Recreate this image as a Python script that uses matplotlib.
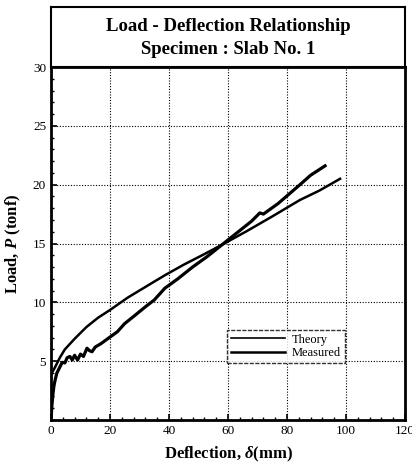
import matplotlib
matplotlib.use("Agg")
import matplotlib.pyplot as plt
from matplotlib.ticker import MultipleLocator

# Data
theory_d = [0.0, 0.3, 1.4, 3.0, 4.7, 8.0, 12.0, 16.0, 20.0, 26.0, 33.6, 38.6, 45.0, 52.0, 58.0, 66.0, 75.0, 84.4, 91.0, 98.0]
theory_p = [3.8, 4.0, 4.5, 5.3, 6.0, 6.9, 7.9, 8.7, 9.35, 10.4, 11.55, 12.3, 13.2, 14.1, 14.9, 16.0, 17.3, 18.7, 19.5, 20.5]

meas_d = [0.0, 0.3, 0.7, 1.0, 1.4, 2.0, 3.0, 3.8, 4.7, 5.5, 6.4, 7.2, 8.0, 9.0, 10.0, 11.0, 12.2, 13.0, 13.9, 15.0,
          17.0, 20.0, 22.5, 25.0, 28.0, 31.9, 35.0, 38.6, 43.0, 48.0, 53.0, 58.0, 63.0, 68.0, 70.0, 70.8, 72.0, 77.0, 84.4, 88.0, 92.9]
meas_p = [0.0, 1.2, 2.3, 2.9, 3.4, 4.0, 4.5, 4.9, 4.85, 5.3, 5.4, 5.1, 5.5, 5.1, 5.6, 5.4, 6.1, 5.9, 5.8, 6.2,
          6.5, 7.05, 7.5, 8.2, 8.8, 9.6, 10.2, 11.2, 12.0, 13.0, 13.9, 14.9, 15.9, 16.9, 17.4, 17.6, 17.5, 18.4, 20.0, 20.8, 21.6]

x_ticks = [0, 20, 40, 60, 80, 100, 120]
y_ticks = [5, 10, 15, 20, 25, 30]
title_lines = ["Load - Deflection Relationship", "Specimen : Slab No. 1"]
legend_labels = ["Theory", "Measured"]

serif = ["Liberation Serif", "DejaVu Serif"]
plt.rcParams["font.family"] = serif
plt.rcParams["mathtext.fontset"] = "custom"
plt.rcParams["mathtext.rm"] = "Liberation Serif"
plt.rcParams["mathtext.it"] = "Liberation Serif:italic"
plt.rcParams["mathtext.bf"] = "Liberation Serif:bold"
plt.rcParams["mathtext.bfit"] = "Liberation Serif:bold:italic"

fig = plt.figure(figsize=(4.12, 4.71), dpi=100)
W, H = 412.0, 471.0
left, right = 51 / W, 405 / W
bottom, top = 1 - 420 / H, 1 - 67 / H
ax = fig.add_axes([left, bottom, right - left, top - bottom])

# title box
tax = fig.add_axes([left, top, right - left, (67 - 7) / H])
tax.set_xticks([])
tax.set_yticks([])
for s in tax.spines.values():
    s.set_linewidth(1.5)
tax.text(0.5, 0.67, title_lines[0], ha="center", va="center", fontsize=13.5, fontweight="bold", transform=tax.transAxes)
tax.text(0.5, 0.30, title_lines[1], ha="center", va="center", fontsize=13.5, fontweight="bold", transform=tax.transAxes)

ax.plot(theory_d, theory_p, color="black", lw=1.8, label=legend_labels[0], solid_joinstyle="round")
ax.plot(meas_d, meas_p, color="black", lw=2.3, label=legend_labels[1], solid_joinstyle="round")

ax.set_xlim(0, 120)
ax.set_ylim(0, 30)
ax.set_xticks(x_ticks)
ax.set_yticks(y_ticks)
ax.xaxis.set_minor_locator(MultipleLocator(4))
ax.yaxis.set_minor_locator(MultipleLocator(1))
ax.tick_params(which="both", direction="in", labelsize=9.5)
ax.tick_params(which="major", length=4, width=1.2)
ax.tick_params(which="minor", length=2.5, width=1.0)
ax.grid(True, which="major", linestyle=(0, (1, 1.5)), color="black", lw=0.8)
for s in ax.spines.values():
    s.set_linewidth(2.0)

ax.set_xlabel(r"Deflection, $\mathbfit{\delta}$(mm)", fontsize=12, fontweight="bold", labelpad=6)
ax.set_ylabel(r"Load, $\mathbfit{P}$ (tonf)", fontsize=12, fontweight="bold", labelpad=7)

leg = ax.legend(loc="upper left", bbox_to_anchor=((227 - 51) / 354, (420 - 330) / 353),
                frameon=True, fancybox=False, fontsize=9, handlelength=4.3,
                borderpad=0.3, labelspacing=0.1, handletextpad=0.6, borderaxespad=0)
leg.get_frame().set_edgecolor("black")
leg.get_frame().set_linewidth(1.0)
leg.get_frame().set_linestyle((0, (3, 1)))
leg.get_lines()[0].set_linewidth(1.2)
leg.get_lines()[1].set_linewidth(1.8)
leg._legend_box.align = "left"

fig.savefig("out.png", dpi=100)
